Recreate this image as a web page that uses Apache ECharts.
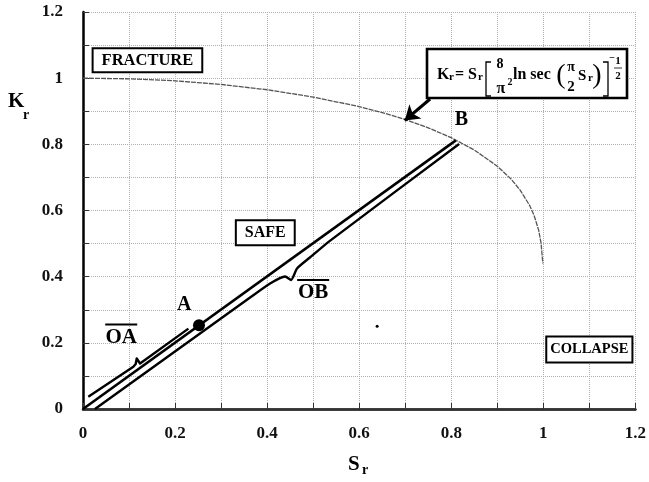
<!DOCTYPE html>
<html><head><meta charset="utf-8">
<script src="https://cdn.jsdelivr.net/npm/echarts@6/dist/echarts.min.js"></script>
<style>html,body{margin:0;padding:0;background:#fff}#c{width:649px;height:482px}</style>
</head><body><div id="c"></div>
<script>
// Failure curve
const srValues = [0, 0.1, 0.2, 0.3, 0.4, 0.5, 0.6, 0.65, 0.7, 0.75, 0.8, 0.85, 0.9, 0.93, 0.95, 0.97, 0.98, 0.99, 0.995, 0.999];
const krValues = [1.0, 0.998, 0.992, 0.981, 0.965, 0.943, 0.914, 0.896, 0.875, 0.850, 0.820, 0.783, 0.734, 0.695, 0.661, 0.616, 0.585, 0.540, 0.502, 0.44];
// Load line O -> B and braces
const lineOB = [[0, 0], [0.81, 0.812]];
const braceOB = [[0.026, 0], [0.363, 0.337], [0.4065, 0.3795], [0.439, 0.4006], [0.452, 0.39], [0.465, 0.4247], [0.493, 0.458], [0.537, 0.509], [0.817, 0.801]];
const braceOA = [[0.0115, 0.037], [0.1094, 0.1275], [0.1145, 0.136], [0.1167, 0.1526], [0.1239, 0.1376], [0.229, 0.243]];
const pointA = [0.252, 0.253];
const speck = [0.639, 0.25];
// Region labels
const boxTexts = ['FRACTURE', 'SAFE', 'COLLAPSE'];
const boxX = [0.14, 0.396, 1.10];
const boxY = [1.054, 0.533, 0.18];
const boxFont = [16.5, 16, 14.5];
const boxPad = [[3, 8, 2, 8], [4, 8, 3, 8], [5, 3, 4, 3]];
// Letter labels
const letterTexts = ['A', 'B'];
const letterX = [0.22, 0.822];
const letterY = [0.316, 0.873];
// Segment labels with overline
const segTexts = ['OA', 'OB'];
const segX = [0.083, 0.50];
const segY = [0.225, 0.36];
// Arrow from formula box to curve
const arrowFrom = [0.754, 0.937];
const arrowTo = [0.699, 0.872];
// Axis ticks
const xTicks = [0, 0.2, 0.4, 0.6, 0.8, 1, 1.2];
const yTicks = [0, 0.2, 0.4, 0.6, 0.8, 1, 1.2];

const SERIF = '"Liberation Serif", "Times New Roman", serif';
const chart = echarts.init(document.getElementById('c'));

const gridLine = { show: true, lineStyle: { type: 'dotted', color: '#b0b0b0', width: 1 } };
function axisCommon(ticks) {
  return {
    type: 'value', min: ticks[0], max: ticks[ticks.length - 1], interval: ticks[1] - ticks[0],
    axisLine: { show: true, onZero: false, lineStyle: { color: '#000', width: 2.5 } },
    axisTick: { show: true, inside: true, length: 6, lineStyle: { color: '#333', width: 1 } },
    minorTick: { show: true, splitNumber: 2, length: 6, lineStyle: { color: '#333', width: 1 } },
    splitLine: gridLine, minorSplitLine: gridLine,
    axisLabel: { fontFamily: SERIF, fontWeight: 'bold', fontSize: 17, color: '#111' }
  };
}
const xA = axisCommon(xTicks); xA.axisLabel.margin = 16;
const yA = axisCommon(yTicks); yA.axisLabel.margin = 20;

const series = [
  { type: 'line', data: srValues.map((s, i) => [s, krValues[i]]), showSymbol: false, smooth: false,
    lineStyle: { color: '#555', width: 1.3, type: [5, 1] }, z: 3 },
  { type: 'line', data: lineOB, showSymbol: false, lineStyle: { color: '#000', width: 2.6 }, z: 4 },
  { type: 'line', data: braceOB, showSymbol: false, smooth: 0.2, lineStyle: { color: '#000', width: 2.4, join: 'round' }, z: 4 },
  { type: 'line', data: braceOA, showSymbol: false, lineStyle: { color: '#000', width: 2.4, join: 'round' }, z: 4 },
  { type: 'scatter', data: [pointA], symbolSize: 12, itemStyle: { color: '#000', opacity: 1 }, z: 5 },
  { type: 'scatter', data: [speck], symbolSize: 3, itemStyle: { color: '#000', opacity: 1 }, z: 5 },
  { type: 'lines', coordinateSystem: 'cartesian2d', data: [{ coords: [arrowFrom, arrowTo] }],
    symbol: ['none', 'arrow'], symbolSize: [1, 14],
    lineStyle: { color: '#000', width: 3, opacity: 1, curveness: 0 }, z: 6 },
  { type: 'scatter', symbolSize: 0, z: 7, itemStyle: { opacity: 1 },
    data: boxTexts.map((t, i) => ({ value: [boxX[i], boxY[i]], name: t,
      label: { fontSize: boxFont[i], padding: boxPad[i] } })),
    label: { show: true, position: 'inside', formatter: p => p.name, fontFamily: SERIF, fontWeight: 'bold',
      fontSize: 15, color: '#000', backgroundColor: '#fff', borderColor: '#000', borderWidth: 2,
      padding: [4, 8, 3, 8] } },
  { type: 'scatter', symbolSize: 0, z: 7, itemStyle: { opacity: 1 },
    data: letterTexts.map((t, i) => ({ value: [letterX[i], letterY[i]], name: t })),
    label: { show: true, position: 'inside', formatter: p => p.name, fontFamily: SERIF, fontWeight: 'bold',
      fontSize: 20, color: '#000' } },
  { type: 'scatter', symbolSize: 0, z: 7, itemStyle: { opacity: 1 },
    data: segTexts.map((t, i) => ({ value: [segX[i], segY[i]], name: t })),
    label: { show: true, position: 'inside', formatter: p => '{bar|}\n{t|' + p.name + '}',
      rich: { bar: { width: 32, height: 2, backgroundColor: '#000', lineHeight: 6 },
              t: { fontFamily: SERIF, fontWeight: 'bold', fontSize: 21, color: '#000', lineHeight: 20 } } } }
];

function txt(x, y, text, size, weight, align) {
  return { type: 'text', x: x, y: y, style: { text: text, fontFamily: SERIF, fontSize: size,
    fontWeight: weight || 'bold', fill: '#000', align: align || 'center', verticalAlign: 'middle' }, z: 100 };
}
function pl(points, w) {
  return { type: 'polyline', shape: { points: points }, style: { stroke: '#000', lineWidth: w || 1.3, fill: null }, z: 100 };
}

const formula = {
  type: 'group', x: 427, y: 49, z: 100,
  children: [
    { type: 'rect', shape: { x: 0, y: 0, width: 200, height: 49 }, style: { fill: '#fff', stroke: '#000', lineWidth: 2.6 }, z: 99 },
    txt(10, 26, 'K', 16, 'bold', 'left'),
    txt(22, 28, 'r', 11, 'bold', 'left'),
    txt(28, 26, '= S', 16, 'bold', 'left'),
    txt(51, 28, 'r', 11, 'bold', 'left'),
    pl([[64, 13], [59, 13], [59, 47], [64, 47]], 1.3),
    txt(73, 15, '8', 14, 'bold'),
    txt(74, 40, 'π', 16, 'bold'),
    txt(83, 33, '2', 10, 'bold'),
    txt(86, 26, 'ln sec', 16, 'bold', 'left'),
    txt(134, 27, '(', 28, 'normal'),
    txt(144, 18, 'π', 14, 'bold'),
    txt(144, 38, '2', 15, 'bold'),
    txt(151, 27, 'S', 15, 'bold', 'left'),
    txt(161, 29, 'r', 11, 'bold', 'left'),
    txt(170, 27, ')', 28, 'normal'),
    pl([[176, 13], [181, 13], [181, 47], [176, 47]], 1.3),
    txt(185, 9, '−', 10, 'bold'),
    txt(191, 12, '1', 11, 'bold'),
    pl([[187, 19], [195, 19]], 0.8),
    txt(191, 27, '2', 11, 'bold')
  ]
};

const graphic = [
  formula,
  txt(8, 102, 'K', 21, 'bold', 'left'),
  txt(23, 115, 'r', 14, 'bold', 'left'),
  txt(348, 465, 'S', 21, 'bold', 'left'),
  txt(362, 470, 'r', 14, 'bold', 'left')
];

chart.setOption({
  animation: false,
  backgroundColor: '#fff',
  grid: { left: 83, right: 12, top: 12, bottom: 73 },
  xAxis: [xA, { type: 'value', position: 'top', min: 0, max: 1.2, axisLine: { show: true, lineStyle: { color: '#333', width: 1 } },
    axisTick: { show: false }, axisLabel: { show: false }, splitLine: { show: false } }],
  yAxis: yA,
  series: series,
  graphic: graphic
});
</script></body></html>
